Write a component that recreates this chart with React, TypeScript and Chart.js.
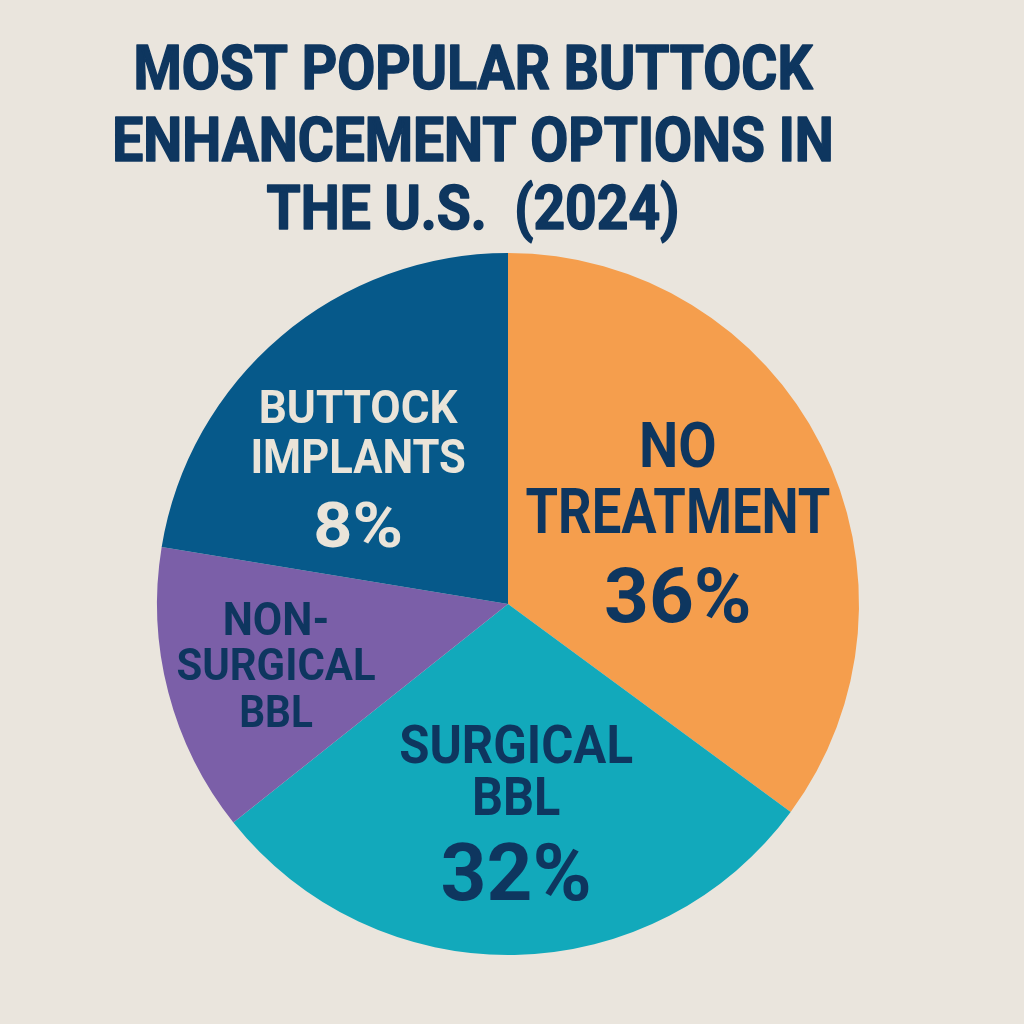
import React, { useEffect, useRef } from "react";
import { Chart, registerables } from "chart.js";

Chart.register(...registerables);

// ---- data ----
const categories = ["No Treatment", "Surgical BBL", "Non-Surgical BBL", "Buttock Implants"];
const shares = [35.1, 29.2, 13.3, 22.4];
const pctLabels = ["36%", "32%", "", "8%"];
const labelLines = [["NO", "TREATMENT"], ["SURGICAL", "BBL"], ["NON-", "SURGICAL", "BBL"], ["BUTTOCK", "IMPLANTS"]];
const titleLines = ["MOST POPULAR BUTTOCK", "ENHANCEMENT OPTIONS IN", "THE U.S.  (2024)"];

// ---- styles / layout ----
const sliceColors = ["#F59E4D", "#12A9BB", "#7B5FA8", "#06598A"];
const navy = "#0E365F";
const cream = "#EAE4D9";
const bg = "#EAE5DD";
const FONT = "Roboto, 'Noto Sans', sans-serif";
const CAP = 0.711;

// label offsets in units of radius, relative to the pie centre: [dy, capHeight, horizontal scale] per line
const labelLayout = [
  { dx: 0.484, color: navy, lines: [[-0.454, 45, 0.88], [-0.266, 45, 0.83]], pct: [-0.026, 54, 1.03] },
  { dx: 0.023, color: navy, lines: [[0.399, 38, 0.92], [0.547, 38, 0.91]], pct: [0.762, 57, 1.0] },
  { dx: -0.661, color: navy, lines: [[0.041, 33, 0.92], [0.171, 32, 0.93], [0.305, 32, 0.9]], pct: [0, 0, 1] },
  { dx: -0.427, color: cream, lines: [[-0.563, 33, 0.95], [-0.423, 34, 0.91]], pct: [-0.226, 45, 1.08] },
];
const titleLayout = { cx: 473, capTops: [45, 117, 185], cap: 44, width0: 679, stroke: 1.6 };

function drawCondensed(ctx: CanvasRenderingContext2D, text: string, cx: number, capCenter: number, cap: number, sx: number, stroke = 0) {
  const size = cap / CAP;
  ctx.font = `bold ${size}px ${FONT}`;
  ctx.textAlign = "center";
  ctx.textBaseline = "alphabetic";
  ctx.save();
  ctx.translate(cx, capCenter + cap / 2);
  ctx.scale(sx, 1);
  ctx.fillText(text, 0, 0);
  if (stroke > 0) {
    ctx.lineWidth = stroke;
    ctx.lineJoin = "round";
    ctx.strokeStyle = ctx.fillStyle;
    ctx.strokeText(text, 0, 0);
  }
  ctx.restore();
}

const textPlugin = {
  id: "textPlugin",
  beforeDraw(chart: any) {
    const ctx = chart.ctx as CanvasRenderingContext2D;
    ctx.save();
    ctx.fillStyle = bg;
    ctx.fillRect(0, 0, chart.width, chart.height);
    ctx.restore();
  },
  afterDatasetsDraw(chart: any) {
    const ctx = chart.ctx as CanvasRenderingContext2D;
    const meta = chart.getDatasetMeta(0);
    ctx.save();
    meta.data.forEach((arc: any, i: number) => {
      const { x, y, outerRadius } = arc.getProps(["x", "y", "outerRadius"], true);
      const lay = labelLayout[i];
      ctx.fillStyle = lay.color;
      const cx = x + lay.dx * outerRadius;
      labelLines[i].forEach((t, j) => {
        const [dy, cap, sx] = lay.lines[j];
        drawCondensed(ctx, t, cx, y + dy * outerRadius, cap, sx);
      });
      if (pctLabels[i]) {
        const [dy, cap, sx] = lay.pct;
        drawCondensed(ctx, pctLabels[i], cx, y + dy * outerRadius, cap, sx);
      }
    });
    // title
    ctx.fillStyle = navy;
    const size = titleLayout.cap / CAP;
    ctx.font = `bold ${size}px ${FONT}`;
    const w0 = ctx.measureText(titleLines[0]).width;
    const sx = titleLayout.width0 / w0;
    titleLines.forEach((t, j) => {
      drawCondensed(ctx, t, titleLayout.cx, titleLayout.capTops[j] + titleLayout.cap / 2, titleLayout.cap, sx, titleLayout.stroke);
    });
    ctx.restore();
  },
};

export default function App() {
  const ref = useRef<HTMLCanvasElement | null>(null);
  useEffect(() => {
    document.body.style.margin = "0";
    document.body.style.background = bg;
    const chart = new Chart(ref.current as HTMLCanvasElement, {
      type: "pie",
      data: {
        labels: categories,
        datasets: [
          {
            data: shares,
            backgroundColor: sliceColors,
            borderWidth: 0,
          },
        ],
      },
      options: {
        responsive: false,
        animation: false,
        layout: { padding: { left: 157, right: 165, top: 253, bottom: 69 } },
        plugins: {
          legend: { display: false },
          title: { display: false },
          tooltip: { enabled: false },
        },
      },
      plugins: [textPlugin],
    });
    return () => chart.destroy();
  }, []);
  return (
    <div style={{ width: 1024, height: 1024, position: "relative" }}>
      <canvas ref={ref} width={1024} height={1024} style={{ display: "block" }} />
    </div>
  );
}
